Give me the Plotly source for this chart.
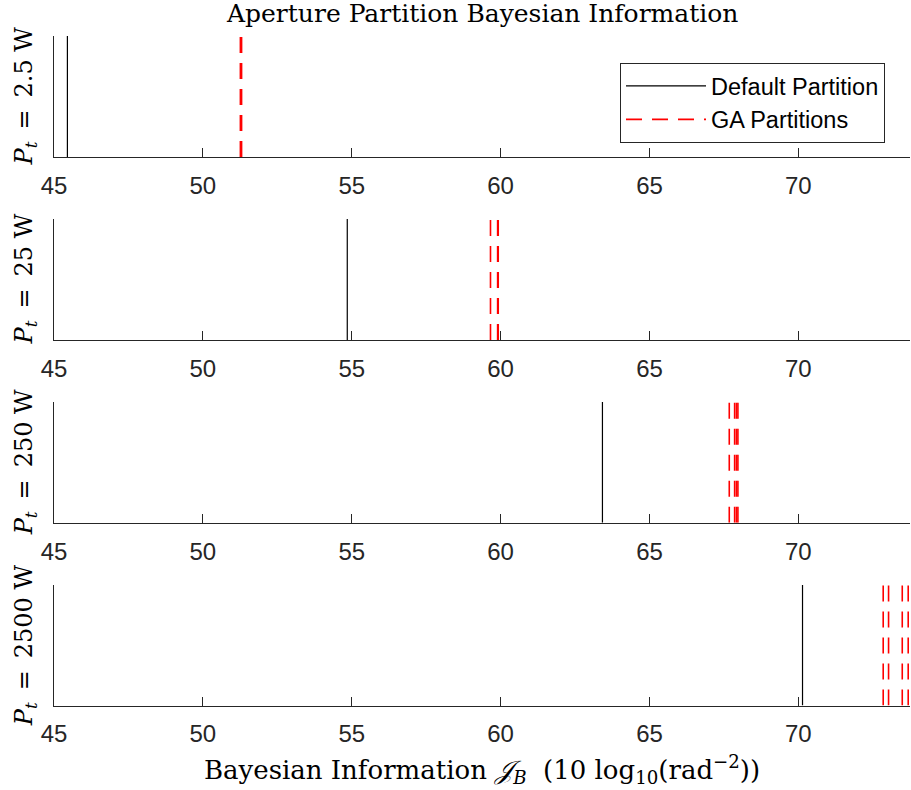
import plotly.graph_objects as go

# ---- data ----
power_labels = ["2.5", "25", "250", "2500"]
default_info = [45.45, 54.85, 63.42, 70.14]
ga_info_2p5 = [51.26, 51.28, 51.30]
ga_info_25 = [59.66, 59.90, 59.92]
ga_info_250 = [67.68, 67.86, 67.92, 67.97]
ga_info_2500 = [72.85, 73.03, 73.49, 73.69]
ga_info = [ga_info_2p5, ga_info_25, ga_info_250, ga_info_2500]
x_ticks = [45, 50, 55, 60, 65, 70]
x_range = [45, 73.75]

W, H = 911, 790
ML, MR = 54, 1
axis_px = [(36, 157), (219, 340), (402, 522.7), (585, 705.5)]

AX = "rgb(38,38,38)"
SANS = "Liberation Sans, Arial, sans-serif"
SERIF = "DejaVu Serif, serif"

fig = go.Figure()
layout = dict(
    width=W, height=H,
    margin=dict(l=ML, r=MR, t=0, b=0),
    paper_bgcolor="white", plot_bgcolor="white",
    showlegend=True,
    legend=dict(
        x=(620 - ML) / (W - ML - MR), y=1 - 63 / H,
        xanchor="left", yanchor="top",
        bgcolor="white", bordercolor=AX, borderwidth=1,
        font=dict(family=SANS, size=23.5, color="black"),
        itemwidth=80, tracegroupgap=0,
    ),
)

for i in range(4):
    n = i + 1
    xa = "x" if n == 1 else f"x{n}"
    ya = "y" if n == 1 else f"y{n}"
    top, bot = axis_px[i]
    layout[f"xaxis{'' if n == 1 else n}"] = dict(
        domain=[0, 1], anchor=ya, range=x_range,
        tickvals=x_ticks, ticktext=[str(t) for t in x_ticks],
        ticks="inside", ticklen=9, tickcolor=AX, tickwidth=1,
        showline=True, linecolor=AX, linewidth=1,
        showgrid=False, zeroline=False, ticklabelstandoff=7,
        tickfont=dict(family=SANS, size=24, color=AX),
    )
    layout[f"yaxis{'' if n == 1 else n}"] = dict(
        domain=[1 - bot / H, 1 - top / H], anchor=xa, range=[0, 1],
        showticklabels=False, ticks="", showline=True, linecolor=AX,
        linewidth=1, showgrid=False, zeroline=False,
    )
    fig.add_trace(go.Scatter(
        x=[default_info[i], default_info[i]], y=[0, 1], mode="lines",
        line=dict(color="black", width=1.2), xaxis=xa, yaxis=ya,
        name="Default Partition", legendgroup="d", showlegend=(i == 0),
    ))
    for j, v in enumerate(ga_info[i]):
        fig.add_trace(go.Scatter(
            x=[v, v], y=[0, 1], mode="lines",
            line=dict(color="rgb(255,0,0)", width=1.6, dash="16px,10px"),
            xaxis=xa, yaxis=ya,
            name="GA Partitions", legendgroup="g",
            showlegend=(i == 0 and j == 0),
        ))

annotations = [
    dict(text="Aperture Partition Bayesian Information", xref="paper", yref="paper",
         x=0.5, y=1 - 14 / H, xanchor="center", yanchor="middle", showarrow=False,
         font=dict(family=SERIF, size=25, color="black")),
    dict(text="Bayesian Information <i>𝒥</i><sub><i>B</i></sub>  (10 log<sub>10</sub>(rad<sup>−2</sup>))",
         xref="paper", yref="paper",
         x=0.5, y=1 - 769 / H, xanchor="center", yanchor="middle", showarrow=False,
         font=dict(family=SERIF, size=26, color="black")),
]
for i in range(4):
    top, bot = axis_px[i]
    annotations.append(dict(
        text=f"<i>P</i><sub><i>t</i></sub>\u2002=\u2002{power_labels[i]} W",
        xref="paper", yref="paper", x=(25 - ML) / (W - ML - MR), y=1 - (top + bot) / 2 / H,
        xanchor="center", yanchor="middle", textangle=-90, showarrow=False,
        font=dict(family=SERIF, size=24, color="black"),
    ))
layout["annotations"] = annotations
fig.update_layout(**layout)
fig.write_html("out.html")
